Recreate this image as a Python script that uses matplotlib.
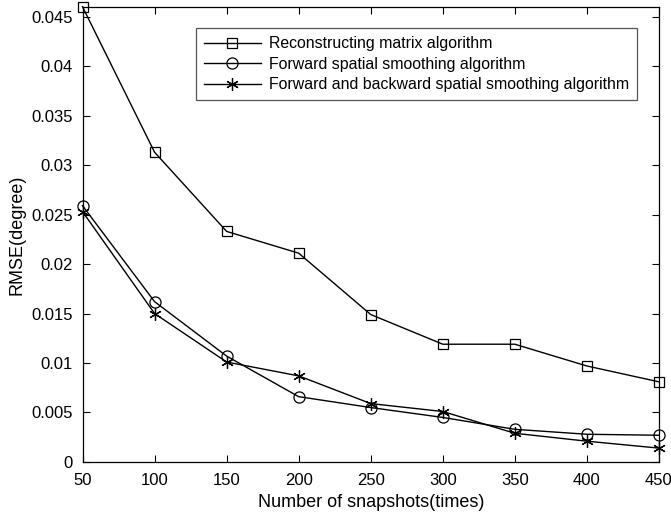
import matplotlib
matplotlib.use("Agg")
import matplotlib.pyplot as plt

plt.rcParams['font.family'] = ['Liberation Sans', 'DejaVu Sans']

# Data
snapshots = [50, 100, 150, 200, 250, 300, 350, 400, 450]
rmse_reconstruct = [0.0460, 0.0313, 0.0233, 0.0211, 0.0149, 0.0119, 0.0119, 0.0097, 0.0081]
rmse_forward = [0.0259, 0.0162, 0.0107, 0.0066, 0.0055, 0.0045, 0.0033, 0.0028, 0.0027]
rmse_fb = [0.0253, 0.0150, 0.0101, 0.0087, 0.0059, 0.0051, 0.0029, 0.0021, 0.0014]

labels = ["Reconstructing matrix algorithm",
          "Forward spatial smoothing algorithm",
          "Forward and backward spatial smoothing algorithm"]
xticks = [50, 100, 150, 200, 250, 300, 350, 400, 450]
yticks = [0, 0.005, 0.01, 0.015, 0.02, 0.025, 0.03, 0.035, 0.04, 0.045]
yticklabels = ["0", "0.005", "0.01", "0.015", "0.02", "0.025", "0.03", "0.035", "0.04", "0.045"]

fig = plt.figure(figsize=(6.71, 5.22), dpi=100)
ax = fig.add_axes([0.123, 0.115, 0.859, 0.872])

ax.plot(snapshots, rmse_reconstruct, color='k', lw=1.0, marker='s', ms=7,
        mfc='none', mec='k', mew=0.9, label=labels[0], clip_on=False)
ax.plot(snapshots, rmse_forward, color='k', lw=1.0, marker='o', ms=8,
        mfc='none', mec='k', mew=0.9, label=labels[1], clip_on=False)
ax.plot(snapshots, rmse_fb, color='k', lw=1.0, marker=(6, 2, 0), ms=9,
        mec='k', mew=0.9, label=labels[2], clip_on=False)

ax.set_xlim(50, 450)
ax.set_ylim(0, 0.046)
ax.set_xticks(xticks)
ax.set_yticks(yticks)
ax.set_yticklabels(yticklabels)
ax.tick_params(direction='in', top=True, right=True, labelsize=12, length=5, width=0.8)
ax.tick_params(axis='y', pad=7)
ax.tick_params(axis='x', pad=8)
for s in ax.spines.values():
    s.set_linewidth(0.9)

ax.set_xlabel("Number of snapshots(times)", fontsize=13, labelpad=4)
ax.set_ylabel("RMSE(degree)", fontsize=13, labelpad=4)

leg = ax.legend(loc='upper right', bbox_to_anchor=(0.975, 0.97), fontsize=11.4,
                handlelength=3.6, handletextpad=0.5, fancybox=False,
                edgecolor='#555555', framealpha=1, borderpad=0.5,
                labelspacing=0.35)
leg.get_frame().set_linewidth(0.9)

fig.savefig("out.png", dpi=100)
